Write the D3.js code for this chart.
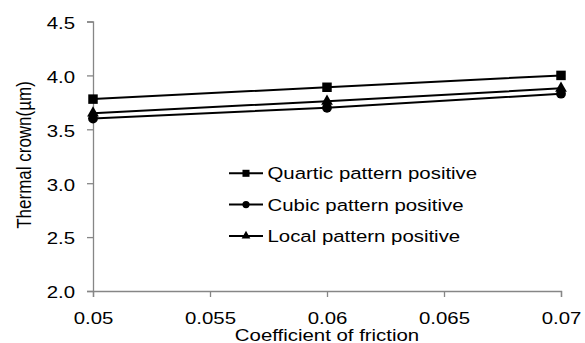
<!DOCTYPE html>
<html>
<head>
<meta charset="utf-8">
<script src="https://cdn.jsdelivr.net/npm/d3@7"></script>
<style>
  html, body { margin: 0; padding: 0; background: #fff; }
  svg { display: block; }
  text { font-family: "Liberation Sans", Arial, sans-serif; fill: #000; }
</style>
</head>
<body>
<svg id="chart" width="585" height="343"></svg>
<script>
// Friction coefficients on the x axis
const friction = [0.05, 0.06, 0.07];
// Thermal crown (µm) for each roll pattern
const quartic = [3.78, 3.89, 4.00];
const cubic = [3.60, 3.70, 3.83];
const local = [3.65, 3.76, 3.88];
const seriesNames = ["Quartic pattern positive", "Cubic pattern positive", "Local pattern positive"];
const xTicks = [0.05, 0.055, 0.06, 0.065, 0.07];
const yTicks = [2.0, 2.5, 3.0, 3.5, 4.0, 4.5];

const series = [
  { name: seriesNames[0], values: quartic, symbol: d3.symbolSquare, size: 90 },
  { name: seriesNames[1], values: cubic, symbol: d3.symbolCircle, size: 75 },
  { name: seriesNames[2], values: local, symbol: d3.symbolTriangle, size: 60 }
];

const svg = d3.select("#chart");
const axisColor = "#868686";
const stretch = "scale(1.2,1)"; // text is set slightly wide
const fontSize = "17px";

const x = d3.scaleLinear().domain([0.05, 0.07]).range([93, 561]);
const y = d3.scaleLinear().domain([2.0, 4.5]).range([291, 21.5]);

// Y axis
const yAxis = svg.append("g").attr("transform", `translate(${x.range()[0]},0)`)
  .call(d3.axisLeft(y).tickValues(yTicks).tickFormat(d3.format(".1f")).tickSize(6));
// X axis
const xAxis = svg.append("g").attr("transform", `translate(0,${y.range()[0]})`)
  .call(d3.axisBottom(x).tickValues(xTicks).tickFormat(d => String(+d.toFixed(3))).tickSize(6));

[yAxis, xAxis].forEach(a => {
  a.selectAll("path.domain").attr("stroke", axisColor).attr("stroke-width", 1.3);
  a.selectAll(".tick line").attr("stroke", axisColor).attr("stroke-width", 1.3);
  a.selectAll(".tick text")
    .style("font-size", fontSize)
    .style("font-family", "'Liberation Sans', Arial, sans-serif")
    .attr("fill", "#000")
    .attr("transform", stretch);
});
xAxis.selectAll(".tick text").attr("y", 33).attr("dy", 0);
yAxis.selectAll(".tick text").attr("x", -15).attr("dy", "0.4em");

// Axis titles
svg.append("text")
  .attr("transform", `translate(${(x.range()[0] + x.range()[1]) / 2},340.5) ${stretch}`)
  .attr("text-anchor", "middle")
  .style("font-size", fontSize)
  .text("Coefficient of friction");

svg.append("text")
  .attr("transform", `translate(31,155) ${stretch} rotate(-90)`)
  .attr("text-anchor", "middle")
  .style("font-size", fontSize)
  .text("Thermal crown(µm)");

// Lines and markers
const line = d3.line().x((d, i) => x(friction[i])).y(d => y(d));

series.forEach(s => {
  svg.append("path")
    .datum(s.values)
    .attr("fill", "none")
    .attr("stroke", "#000")
    .attr("stroke-width", 2)
    .attr("d", line);
});

series.forEach(s => {
  svg.append("g").selectAll("path")
    .data(s.values)
    .join("path")
    .attr("transform", (d, i) => `translate(${x(friction[i])},${y(d)})`)
    .attr("d", d3.symbol(s.symbol, s.size))
    .attr("fill", "#000");
});

// Legend
const legend = svg.append("g").attr("transform", "translate(229,173.3)");
series.forEach((s, i) => {
  const g = legend.append("g").attr("transform", `translate(0,${i * 31.3})`);
  g.append("line").attr("x1", 0).attr("x2", 34).attr("y1", 0).attr("y2", 0)
    .attr("stroke", "#000").attr("stroke-width", 2);
  g.append("path").attr("transform", "translate(17,0)")
    .attr("d", d3.symbol(s.symbol, s.size * 0.55)).attr("fill", "#000");
  g.append("text")
    .attr("transform", `translate(38.5,0) ${stretch}`)
    .attr("dy", "0.35em")
    .style("font-size", fontSize)
    .text(s.name);
});
</script>
</body>
</html>
